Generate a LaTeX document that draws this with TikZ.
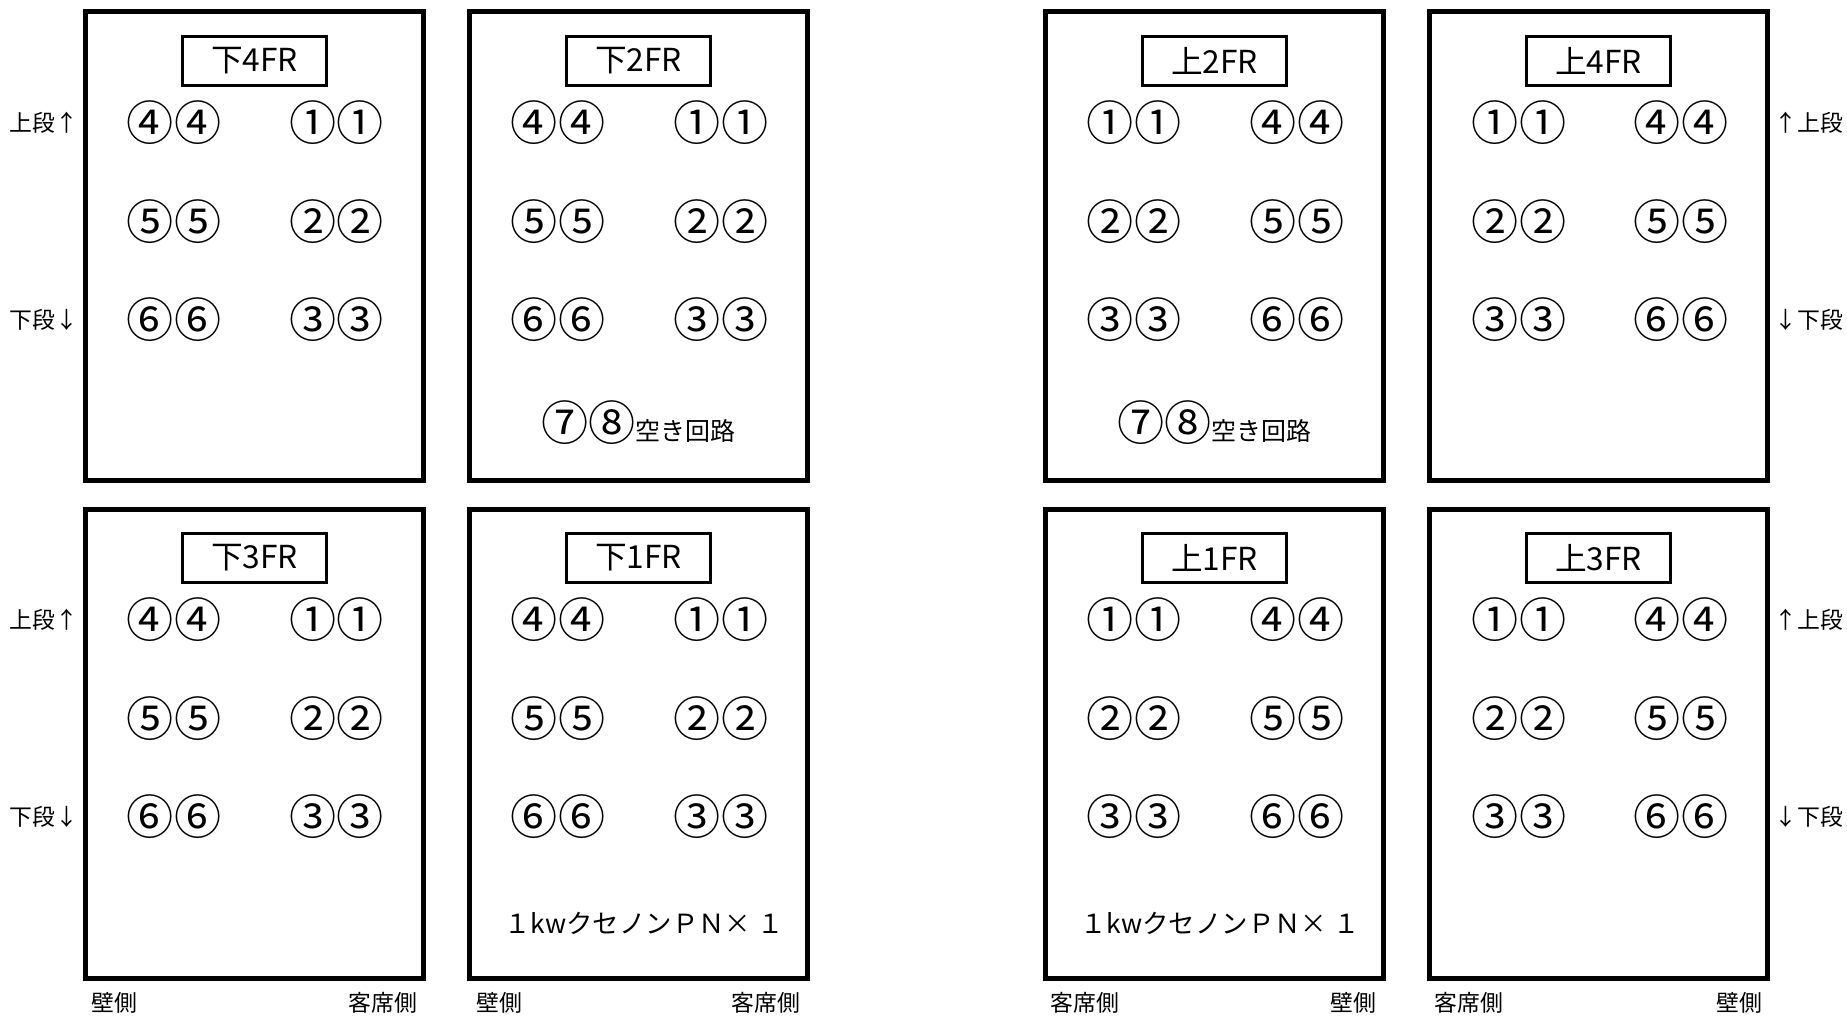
\documentclass[tikz,border=0pt]{standalone}
\usepackage{fontspec}
\setmainfont{Noto Sans CJK JP}
\usepackage{tikz}

\begin{document}
\begin{tikzpicture}[x=0.01cm, y=-0.01cm,
	frame/.style={shape=rectangle, draw=black, line width=0.055cm, minimum width=3.375cm, minimum height=4.69cm, inner sep=0pt},
	title/.style={shape=rectangle, draw=black, line width=0.03cm, minimum width=1.43cm, minimum height=0.49cm, inner sep=0pt, font=\fontsize{9}{9}\selectfont},
	pair/.style={inner sep=0pt, font=\fontsize{13.4}{13.4}\selectfont},
	note/.style={inner sep=0pt, font=\fontsize{7.5}{7.5}\selectfont},
	side/.style={inner sep=0pt, font=\fontsize{6.5}{6.5}\selectfont}]

	\useasboundingbox (0, 0) rectangle (1847, 1016);

	% frames
	\node[frame] (d4) at (254.5, 246) {};
	\node[frame] (d2) at (638.5, 246) {};
	\node[frame] (u2) at (1214.5, 246) {};
	\node[frame] (u4) at (1598.5, 246) {};
	\node[frame] (d3) at (254.5, 744) {};
	\node[frame] (d1) at (638.5, 744) {};
	\node[frame] (u1) at (1214.5, 744) {};
	\node[frame] (u3) at (1598.5, 744) {};

	% titles
	\node[title] (d4t) at (254.5, 61)  {下4FR};
	\node[title] (d2t) at (638.5, 61)  {下2FR};
	\node[title] (u2t) at (1214.5, 61) {上2FR};
	\node[title] (u4t) at (1598.5, 61) {上4FR};
	\node[title] (d3t) at (254.5, 558) {下3FR};
	\node[title] (d1t) at (638.5, 558) {下1FR};
	\node[title] (u1t) at (1214.5, 558) {上1FR};
	\node[title] (u3t) at (1598.5, 558) {上3FR};

	% 下4FR
	\node[pair] (d4a) at (174, 123) {④④};
	\node[pair] (d4b) at (337, 123) {①①};
	\node[pair] (d4c) at (174, 222) {⑤⑤};
	\node[pair] (d4d) at (337, 222) {②②};
	\node[pair] (d4e) at (174, 320) {⑥⑥};
	\node[pair] (d4f) at (337, 320) {③③};

	% 下2FR
	\node[pair] (d2a) at (558, 123) {④④};
	\node[pair] (d2b) at (721, 123) {①①};
	\node[pair] (d2c) at (558, 222) {⑤⑤};
	\node[pair] (d2d) at (721, 222) {②②};
	\node[pair] (d2e) at (558, 320) {⑥⑥};
	\node[pair] (d2f) at (721, 320) {③③};
	\node[pair] (d2g) at (638.5, 423) {⑦⑧{\fontsize{7.1}{7.1}\selectfont 空き回路}};

	% 上2FR
	\node[pair] (u2a) at (1134, 123) {①①};
	\node[pair] (u2b) at (1297, 123) {④④};
	\node[pair] (u2c) at (1134, 222) {②②};
	\node[pair] (u2d) at (1297, 222) {⑤⑤};
	\node[pair] (u2e) at (1134, 320) {③③};
	\node[pair] (u2f) at (1297, 320) {⑥⑥};
	\node[pair] (u2g) at (1214.5, 423) {⑦⑧{\fontsize{7.1}{7.1}\selectfont 空き回路}};

	% 上4FR
	\node[pair] (u4a) at (1519, 123) {①①};
	\node[pair] (u4b) at (1681, 123) {④④};
	\node[pair] (u4c) at (1519, 222) {②②};
	\node[pair] (u4d) at (1681, 222) {⑤⑤};
	\node[pair] (u4e) at (1519, 320) {③③};
	\node[pair] (u4f) at (1681, 320) {⑥⑥};

	% 下3FR
	\node[pair] (d3a) at (174, 620) {④④};
	\node[pair] (d3b) at (337, 620) {①①};
	\node[pair] (d3c) at (174, 719) {⑤⑤};
	\node[pair] (d3d) at (337, 719) {②②};
	\node[pair] (d3e) at (174, 817) {⑥⑥};
	\node[pair] (d3f) at (337, 817) {③③};

	% 下1FR
	\node[pair] (d1a) at (558, 620) {④④};
	\node[pair] (d1b) at (721, 620) {①①};
	\node[pair] (d1c) at (558, 719) {⑤⑤};
	\node[pair] (d1d) at (721, 719) {②②};
	\node[pair] (d1e) at (558, 817) {⑥⑥};
	\node[pair] (d1f) at (721, 817) {③③};
	\node[note] (d1g) at (644, 923) {１kwクセノンＰＮ× １};

	% 上1FR
	\node[pair] (u1a) at (1134, 620) {①①};
	\node[pair] (u1b) at (1297, 620) {④④};
	\node[pair] (u1c) at (1134, 719) {②②};
	\node[pair] (u1d) at (1297, 719) {⑤⑤};
	\node[pair] (u1e) at (1134, 817) {③③};
	\node[pair] (u1f) at (1297, 817) {⑥⑥};
	\node[note] (u1g) at (1220, 923) {１kwクセノンＰＮ× １};

	% 上3FR
	\node[pair] (u3a) at (1519, 620) {①①};
	\node[pair] (u3b) at (1681, 620) {④④};
	\node[pair] (u3c) at (1519, 719) {②②};
	\node[pair] (u3d) at (1681, 719) {⑤⑤};
	\node[pair] (u3e) at (1519, 817) {③③};
	\node[pair] (u3f) at (1681, 817) {⑥⑥};

	% side labels
	\node[side, anchor=east] (lu1) at (79, 123)   {上段↑};
	\node[side, anchor=east] (ld1) at (79, 320)   {下段↓};
	\node[side, anchor=east] (lu2) at (79, 620)   {上段↑};
	\node[side, anchor=east] (ld2) at (79, 817)   {下段↓};
	\node[side, anchor=west] (ru1) at (1774, 123) {↑上段};
	\node[side, anchor=west] (rd1) at (1774, 320) {↓下段};
	\node[side, anchor=west] (ru2) at (1774, 620) {↑上段};
	\node[side, anchor=west] (rd2) at (1774, 817) {↓下段};

	% bottom labels
	\node[side, anchor=west] (w1) at (91, 1003)   {壁側};
	\node[side, anchor=east] (s1) at (418, 1003)  {客席側};
	\node[side, anchor=west] (w2) at (476, 1003)  {壁側};
	\node[side, anchor=east] (s2) at (801, 1003)  {客席側};
	\node[side, anchor=west] (s3) at (1050, 1003) {客席側};
	\node[side, anchor=east] (w3) at (1377, 1003) {壁側};
	\node[side, anchor=west] (s4) at (1434, 1003) {客席側};
	\node[side, anchor=east] (w4) at (1763, 1003) {壁側};
\end{tikzpicture}
\end{document}
